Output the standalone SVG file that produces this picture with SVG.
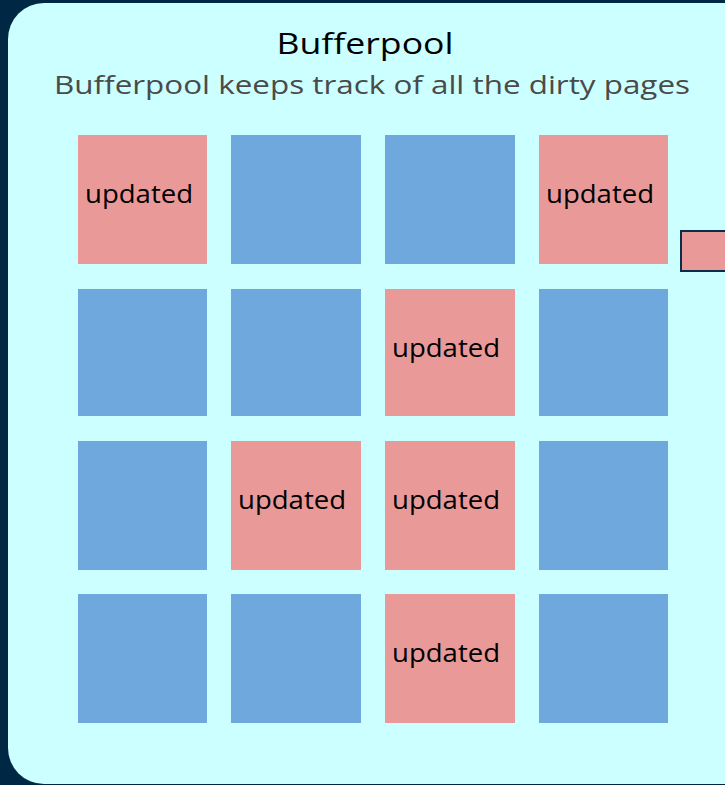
<svg xmlns="http://www.w3.org/2000/svg" width="725" height="785" viewBox="0 0 725 785">
<style>
.p{fill:#ea9999}
.b{fill:#6fa8dc}
.t{font-family:"Open Sans","DejaVu Sans",sans-serif;font-size:25px;fill:#000;text-anchor:middle}
</style>
<rect x="0" y="0" width="725" height="785" fill="#002844"/>
<g id="bufferpool">
<rect x="8" y="3" width="760" height="781" rx="36" ry="36" fill="#ccffff"/>
<text x="365" y="54" font-family="Open Sans, DejaVu Sans, sans-serif" font-size="30" fill="#000" text-anchor="middle" textLength="177" lengthAdjust="spacingAndGlyphs">Bufferpool</text>
<text x="372" y="94" font-family="Open Sans, DejaVu Sans, sans-serif" font-size="26" fill="#4a4a4a" text-anchor="middle" textLength="636" lengthAdjust="spacingAndGlyphs">Bufferpool keeps track of all the dirty pages</text>
</g>
<g id="r1c1"><rect class="p" x="78" y="135" width="129" height="129"/><text class="t" x="139" y="203" textLength="108" lengthAdjust="spacingAndGlyphs">updated</text></g>
<g id="r1c2"><rect class="b" x="231" y="135" width="130" height="129"/></g>
<g id="r1c3"><rect class="b" x="385" y="135" width="130" height="129"/></g>
<g id="r1c4"><rect class="p" x="539" y="135" width="129" height="129"/><text class="t" x="600" y="203" textLength="108" lengthAdjust="spacingAndGlyphs">updated</text></g>
<g id="r2c1"><rect class="b" x="78" y="289" width="129" height="127"/></g>
<g id="r2c2"><rect class="b" x="231" y="289" width="130" height="127"/></g>
<g id="r2c3"><rect class="p" x="385" y="289" width="130" height="127"/><text class="t" x="446" y="357" textLength="108" lengthAdjust="spacingAndGlyphs">updated</text></g>
<g id="r2c4"><rect class="b" x="539" y="289" width="129" height="127"/></g>
<g id="r3c1"><rect class="b" x="78" y="441" width="129" height="129"/></g>
<g id="r3c2"><rect class="p" x="231" y="441" width="130" height="129"/><text class="t" x="292" y="509" textLength="108" lengthAdjust="spacingAndGlyphs">updated</text></g>
<g id="r3c3"><rect class="p" x="385" y="441" width="130" height="129"/><text class="t" x="446" y="509" textLength="108" lengthAdjust="spacingAndGlyphs">updated</text></g>
<g id="r3c4"><rect class="b" x="539" y="441" width="129" height="129"/></g>
<g id="r4c1"><rect class="b" x="78" y="594" width="129" height="129"/></g>
<g id="r4c2"><rect class="b" x="231" y="594" width="130" height="129"/></g>
<g id="r4c3"><rect class="p" x="385" y="594" width="130" height="129"/><text class="t" x="446" y="662" textLength="108" lengthAdjust="spacingAndGlyphs">updated</text></g>
<g id="r4c4"><rect class="b" x="539" y="594" width="129" height="129"/></g>
<g id="outside"><rect x="681" y="231" width="60" height="40" fill="#ea9999" stroke="#0b2d4a" stroke-width="2"/></g>
<g id="connectors"></g>
</svg>
